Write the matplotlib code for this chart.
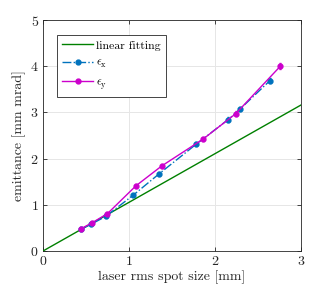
import matplotlib
matplotlib.use("Agg")
import matplotlib.pyplot as plt
from matplotlib.lines import Line2D

plt.rcParams['font.family'] = 'serif'
plt.rcParams['font.serif'] = ['cmr10', 'DejaVu Serif']
plt.rcParams['mathtext.fontset'] = 'cm'
plt.rcParams['axes.formatter.use_mathtext'] = True
plt.rcParams['axes.unicode_minus'] = False

# data
fit_x = [0.0, 3.0]
fit_y = [0.0, 3.16]

ex_x = [0.44, 0.56, 0.73, 1.05, 1.35, 1.78, 2.15, 2.29, 2.64]
ex_y = [0.47, 0.58, 0.75, 1.21, 1.67, 2.31, 2.84, 3.07, 3.69]
ex_err = [0.03, 0.03, 0.03, 0.03, 0.04, 0.04, 0.05, 0.05, 0.06]

ey_x = [0.44, 0.57, 0.75, 1.08, 1.38, 1.86, 2.24, 2.76]
ey_y = [0.48, 0.61, 0.81, 1.41, 1.84, 2.42, 2.97, 4.00]
ey_err = [0.03, 0.03, 0.03, 0.04, 0.04, 0.04, 0.05, 0.06]

xticks = [0, 1, 2, 3]
yticks = [0, 1, 2, 3, 4, 5]

fig = plt.figure(figsize=(3.32, 2.92), dpi=100)
ax = fig.add_axes([0.1295, 0.1404, 0.7771, 0.7911])

green = '#008000'
blue = '#0072BD'
mag = '#CC00CC'

ax.plot(fit_x, fit_y, color=green, lw=1.0, zorder=3)
ax.errorbar(ex_x, ex_y, yerr=ex_err, color=blue, ls='-.', lw=1.0, marker='o',
            ms=3.5, capsize=1.0, elinewidth=0.8, zorder=4)
ax.errorbar(ey_x, ey_y, yerr=ey_err, color=mag, ls='-', lw=1.0, marker='o',
            ms=3.5, capsize=1.0, elinewidth=0.8, zorder=5)

ax.set_xlim(0, 3)
ax.set_ylim(0, 5)
ax.set_xticks(xticks)
ax.set_yticks(yticks)
ax.grid(True, color='#e6e6e6', lw=0.7)
ax.set_axisbelow(True)
ax.tick_params(direction='in', top=True, right=True, length=3, width=0.6,
               colors='#262626', labelsize=10, pad=3)
for s in ax.spines.values():
    s.set_color('#262626')
    s.set_linewidth(0.6)

ax.set_xlabel('laser rms spot size [mm]', fontsize=10, color='#262626', labelpad=2)
ax.set_ylabel('emittance [mm mrad]', fontsize=10, color='#262626', labelpad=3)

handles = [
    Line2D([], [], color=green, lw=1.0),
    Line2D([], [], color=blue, lw=1.0, ls='-.', marker='o', ms=3.5),
    Line2D([], [], color=mag, lw=1.0, ls='-', marker='o', ms=3.5),
]
labels = ['linear fitting', r'$\epsilon_{\rm x}$', r'$\epsilon_{\rm y}$']
leg = ax.legend(handles, labels, loc='upper left', bbox_to_anchor=(0.054, 0.935),
                fontsize=8.5, fancybox=False, edgecolor='#262626', framealpha=1,
                handlelength=2.6, borderpad=0.45, labelspacing=0.6, handletextpad=0.3,
                borderaxespad=0)
leg.get_frame().set_linewidth(0.6)

fig.savefig('out.png', dpi=100)
